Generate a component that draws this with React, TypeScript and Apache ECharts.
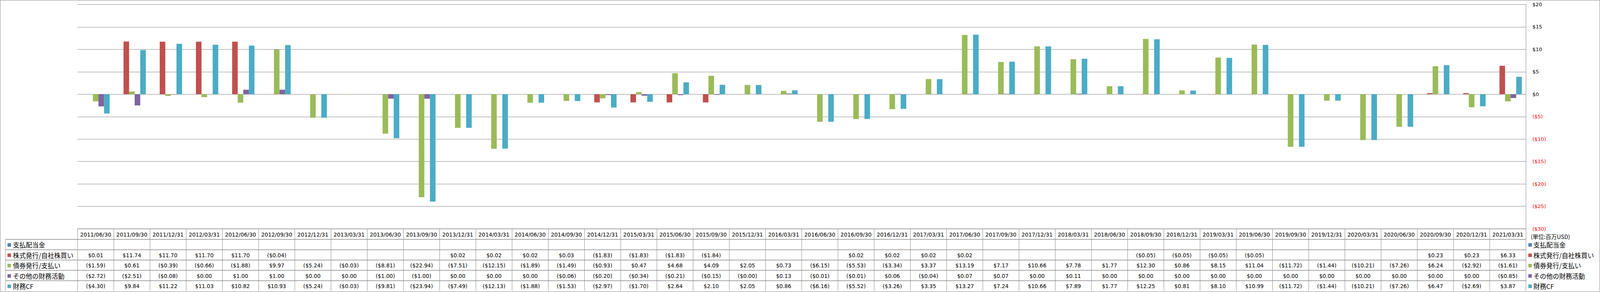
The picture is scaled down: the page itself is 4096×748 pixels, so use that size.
import React, { useEffect, useRef } from 'react';
import * as echarts from 'echarts';

const categories = [
  '2011/06/30', '2011/09/30', '2011/12/31', '2012/03/31', '2012/06/30', '2012/09/30', '2012/12/31', '2013/03/31',
  '2013/06/30', '2013/09/30', '2013/12/31', '2014/03/31', '2014/06/30', '2014/09/30', '2014/12/31', '2015/03/31',
  '2015/06/30', '2015/09/30', '2015/12/31', '2016/03/31', '2016/06/30', '2016/09/30', '2016/12/31', '2017/03/31',
  '2017/06/30', '2017/09/30', '2017/12/31', '2018/03/31', '2018/06/30', '2018/09/30', '2018/12/31', '2019/03/31',
  '2019/06/30', '2019/09/30', '2019/12/31', '2020/03/31', '2020/06/30', '2020/09/30', '2020/12/31', '2021/03/31',
];

const seriesNames = ['支払配当金', '株式発行/自社株買い', '債券発行/支払い', 'その他の財務活動', '財務CF'];

const dividends: (number | null)[] = [
  null, null, null, null, null, null, null, null, null, null,
  null, null, null, null, null, null, null, null, null, null,
  null, null, null, null, null, null, null, null, null, null,
  null, null, null, null, null, null, null, null, null, null,
];

const stockIssue: (number | null)[] = [
  0.01, 11.74, 11.70, 11.70, 11.70, -0.04, null, null, null, null,
  0.02, 0.02, 0.02, 0.03, -1.83, -1.83, -1.83, -1.84, null, null,
  null, 0.02, 0.02, 0.02, 0.02, null, null, null, null, -0.05,
  -0.05, -0.05, -0.05, null, null, null, null, 0.23, 0.23, 6.33,
];

const debtIssue: (number | null)[] = [
  -1.59, 0.61, -0.39, -0.66, -1.88, 9.97, -5.24, -0.03, -8.81, -22.94,
  -7.51, -12.15, -1.89, -1.49, -0.93, 0.47, 4.68, 4.09, 2.05, 0.73,
  -6.15, -5.53, -3.34, 3.37, 13.19, 7.17, 10.66, 7.78, 1.77, 12.30,
  0.86, 8.15, 11.04, -11.72, -1.44, -10.21, -7.26, 6.24, -2.92, -1.61,
];

const otherFinancing: (number | null)[] = [
  -2.72, -2.51, -0.08, 0.00, 1.00, 1.00, 0.00, 0.00, -1.00, -1.00,
  0.00, 0.00, 0.00, -0.06, -0.20, -0.34, -0.21, -0.15, -0, 0.13,
  -0.01, -0.01, 0.06, -0.04, 0.07, 0.07, 0.00, 0.11, 0.00, 0.00,
  0.00, 0.00, 0.00, 0.00, 0.00, 0.00, 0.00, 0.00, 0.00, -0.85,
];

const financingCF: (number | null)[] = [
  -4.30, 9.84, 11.22, 11.03, 10.82, 10.93, -5.24, -0.03, -9.81, -23.94,
  -7.49, -12.13, -1.88, -1.53, -2.97, -1.70, 2.64, 2.10, 2.05, 0.86,
  -6.16, -5.52, -3.26, 3.35, 13.27, 7.24, 10.66, 7.89, 1.77, 12.25,
  0.81, 8.10, 10.99, -11.72, -1.44, -10.21, -7.26, 6.47, -2.69, 3.87,
];

const seriesData = [dividends, stockIssue, debtIssue, otherFinancing, financingCF];
const colors = ['#4F81BD', '#C0504D', '#9BBB59', '#8064A2', '#4BACC6'];
const unitLabel = '(単位:百万USD)';

const W = 4096;
const H = 748;
const S = 0.871;

const LATIN = '"DejaVu Sans", Verdana, sans-serif';
const CJK = '"Noto Sans CJK JP", "DejaVu Sans", sans-serif';

function fmt(v: number | null): string {
  if (v === null || v === undefined) return '';
  const neg = v < 0 || Object.is(v, -0);
  const s = '$' + Math.abs(v).toFixed(2);
  return neg ? '(' + s + ')' : s;
}

export default function App() {
  const ref = useRef<HTMLDivElement>(null);

  useEffect(() => {
    document.body.style.margin = '0';
    if (!ref.current) return;
    const chart = echarts.init(ref.current, null, { renderer: 'svg' });

    const gridLeft = 228 * S;
    const gridRight = 4485 * S;
    const gridTop = 13 * S;
    const gridBottom = 673 * S;
    const colW = (gridRight - gridLeft) / categories.length;
    const tableTop = gridBottom;
    const headerBottom = 704 * S;
    const tableBottom = 856 * S;
    const rowH = (tableBottom - headerBottom) / 5;
    const legendLeft = 16 * S;
    const lineColor = '#898989';

    const graphics: any[] = [];
    // outer border
    graphics.push({
      type: 'rect', silent: true,
      shape: { x: 0.5, y: 0.5, width: W - 1, height: H - 1 },
      style: { fill: 'none', stroke: '#868686', lineWidth: 1 },
    });
    // horizontal lines
    graphics.push({
      type: 'line', silent: true,
      shape: { x1: gridLeft, y1: tableTop, x2: gridRight, y2: tableTop },
      style: { stroke: lineColor, lineWidth: 1.5 },
    });
    for (let r = 0; r <= 4; r++) {
      const y = headerBottom + r * rowH;
      graphics.push({
        type: 'line', silent: true,
        shape: { x1: legendLeft, y1: y, x2: gridRight, y2: y },
        style: { stroke: lineColor, lineWidth: 1.5 },
      });
    }
    // vertical lines
    graphics.push({
      type: 'line', silent: true,
      shape: { x1: legendLeft, y1: headerBottom, x2: legendLeft, y2: tableBottom },
      style: { stroke: lineColor, lineWidth: 1 },
    });
    for (let i = 0; i <= categories.length; i++) {
      const x = gridLeft + i * colW;
      graphics.push({
        type: 'line', silent: true,
        shape: { x1: x, y1: tableTop, x2: x, y2: tableBottom },
        style: { stroke: lineColor, lineWidth: 1 },
      });
    }
    // header dates
    categories.forEach((c, i) => {
      graphics.push({
        type: 'text', silent: true,
        x: gridLeft + (i + 0.5) * colW,
        y: (tableTop + headerBottom) / 2 + 1,
        style: {
          text: c, fill: '#000', fontFamily: LATIN, fontSize: 13.8,
          align: 'center', verticalAlign: 'middle',
        },
      });
    });
    // rows
    seriesData.forEach((arr, r) => {
      const cy = headerBottom + (r + 0.5) * rowH + 1;
      // left legend key
      graphics.push({
        type: 'rect', silent: true,
        shape: { x: 22 * S, y: cy - 4.5, width: 9, height: 9 },
        style: { fill: colors[r] },
      });
      graphics.push({
        type: 'text', silent: true,
        x: 38 * S, y: cy,
        style: {
          text: seriesNames[r], fill: '#000', fontFamily: CJK, fontSize: 16.5,
          align: 'left', verticalAlign: 'middle',
        },
      });
      // right legend
      graphics.push({
        type: 'rect', silent: true,
        shape: { x: 4492 * S, y: cy - 4.5, width: 9, height: 9 },
        style: { fill: colors[r] },
      });
      graphics.push({
        type: 'text', silent: true,
        x: 4507 * S, y: cy,
        style: {
          text: seriesNames[r], fill: '#000', fontFamily: CJK, fontSize: 16.5,
          align: 'left', verticalAlign: 'middle',
        },
      });
      arr.forEach((v, i) => {
        const t = fmt(v);
        if (!t) return;
        graphics.push({
          type: 'text', silent: true,
          x: gridLeft + (i + 0.5) * colW, y: cy,
          style: {
            text: t, fill: '#000', fontFamily: LATIN, fontSize: 13.6,
            align: 'center', verticalAlign: 'middle',
          },
        });
      });
    });
    // unit label
    graphics.push({
      type: 'text', silent: true,
      x: 4499 * S, y: 695 * S,
      style: {
        text: unitLabel, fill: '#000', fontFamily: CJK, fontSize: 14.5,
        align: 'left', verticalAlign: 'middle',
      },
    });

    chart.setOption({
      animation: false,
      backgroundColor: '#ffffff',
      grid: {
        left: gridLeft,
        top: gridTop,
        width: gridRight - gridLeft,
        height: gridBottom - gridTop,
        containLabel: false,
      },
      xAxis: {
        type: 'category',
        data: categories,
        axisLabel: { show: false },
        axisTick: { show: false },
        axisLine: { show: false },
        splitLine: { show: false },
      },
      yAxis: {
        type: 'value',
        position: 'right',
        min: -30,
        max: 20,
        interval: 5,
        axisLine: { show: true, lineStyle: { color: '#868686', width: 1 } },
        axisTick: { show: false },
        splitLine: { show: true, lineStyle: { color: '#868686', width: 1 } },
        axisLabel: {
          margin: 16.5,
          formatter: (v: number) => (v < 0 ? '{neg|($' + -v + ')}' : '{pos|$' + v + '}'),
          rich: {
            neg: { color: '#FF0000', fontFamily: LATIN, fontSize: 13 },
            pos: { color: '#000000', fontFamily: LATIN, fontSize: 13 },
          },
        },
      },
      series: seriesData.map((d, k) => ({
        name: seriesNames[k],
        type: 'bar',
        data: d,
        barWidth: 16.4 * S,
        barGap: '0%',
        itemStyle: { color: colors[k] },
      })),
      graphic: graphics,
    });

    return () => {
      chart.dispose();
    };
  }, []);

  return (
    <div
      ref={ref}
      style={{ position: 'fixed', left: 0, top: 0, width: W + 'px', height: H + 'px', background: '#fff' }}
    />
  );
}
